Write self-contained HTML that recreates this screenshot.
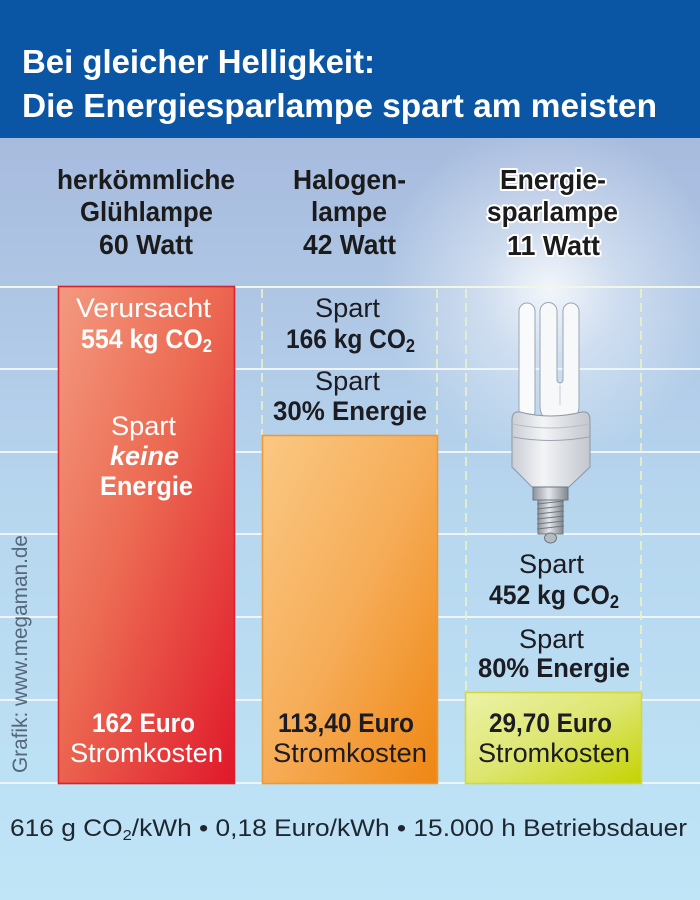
<!DOCTYPE html>
<html><head><meta charset="utf-8">
<style>
html,body{margin:0;padding:0;width:700px;height:900px;overflow:hidden;background:#b5d3ee}
svg{display:block}
text{font-family:"Liberation Sans",sans-serif}
</style></head><body>
<svg width="700" height="900" viewBox="0 0 700 900" xmlns="http://www.w3.org/2000/svg">
<defs>
<linearGradient id="bg" x1="0" y1="138" x2="0" y2="900" gradientUnits="userSpaceOnUse">
<stop offset="0" stop-color="#a7bbde"/><stop offset="0.22" stop-color="#afc7e5"/><stop offset="0.5" stop-color="#b7d7ef"/><stop offset="1" stop-color="#bfe5f7"/>
</linearGradient>
<radialGradient id="glow" cx="550" cy="290" r="170" gradientUnits="userSpaceOnUse">
<stop offset="0" stop-color="#fff" stop-opacity="0.85"/><stop offset="0.4" stop-color="#fff" stop-opacity="0.4"/><stop offset="1" stop-color="#fff" stop-opacity="0"/>
</radialGradient>
<linearGradient id="red" x1="0" y1="0" x2="1" y2="1">
<stop offset="0" stop-color="#f39a80"/><stop offset="0.45" stop-color="#ec6a52"/><stop offset="1" stop-color="#e0182a"/>
</linearGradient>
<linearGradient id="org" x1="0" y1="0" x2="1" y2="1">
<stop offset="0" stop-color="#fac884"/><stop offset="0.5" stop-color="#f6ad58"/><stop offset="1" stop-color="#ef8612"/>
</linearGradient>
<linearGradient id="grn" x1="0" y1="0" x2="1" y2="1">
<stop offset="0" stop-color="#ecf2a8"/><stop offset="0.5" stop-color="#dde670"/><stop offset="1" stop-color="#c4d200"/>
</linearGradient>
<linearGradient id="base" x1="0" y1="0" x2="1" y2="0">
<stop offset="0" stop-color="#c9ced5"/><stop offset="0.4" stop-color="#f3f4f6"/><stop offset="1" stop-color="#c2c7ce"/>
</linearGradient>
<linearGradient id="metal" x1="0" y1="0" x2="1" y2="0">
<stop offset="0" stop-color="#8d949c"/><stop offset="0.45" stop-color="#e4e7ea"/><stop offset="1" stop-color="#7f868e"/>
</linearGradient>
</defs>

<!-- background -->
<rect x="0" y="0" width="700" height="900" fill="url(#bg)"/>
<ellipse cx="550" cy="290" rx="170" ry="200" fill="url(#glow)"/>

<!-- header -->
<rect x="0" y="0" width="700" height="138" fill="#0a56a5"/>
<text x="22" y="73" font-size="33" font-weight="bold" fill="#fff" textLength="353" lengthAdjust="spacingAndGlyphs">Bei gleicher Helligkeit:</text>
<text x="22" y="117" font-size="33" font-weight="bold" fill="#fff" textLength="635" lengthAdjust="spacingAndGlyphs">Die Energiesparlampe spart am meisten</text>

<!-- grid lines -->
<g stroke="#eef5fa" stroke-width="2">
<line x1="0" y1="287" x2="700" y2="287" stroke="#f2f6e6"/>
<line x1="0" y1="369" x2="700" y2="369"/>
<line x1="0" y1="452" x2="700" y2="452"/>
<line x1="0" y1="534" x2="700" y2="534"/>
<line x1="0" y1="617" x2="700" y2="617"/>
<line x1="0" y1="700" x2="700" y2="700"/>
<line x1="0" y1="783" x2="700" y2="783"/>
</g>
<g stroke="#eef3bf" stroke-width="1.6" stroke-dasharray="9 5">
<line x1="262" y1="289" x2="262" y2="435"/>
<line x1="437" y1="289" x2="437" y2="435"/>
<line x1="466" y1="289" x2="466" y2="692"/>
<line x1="641" y1="289" x2="641" y2="692"/>
</g>

<!-- column headers -->
<g font-size="28" font-weight="bold" fill="#1b1b1b">
<text x="57" y="189" textLength="178" lengthAdjust="spacingAndGlyphs">herkömmliche</text>
<text x="80" y="221" textLength="133" lengthAdjust="spacingAndGlyphs">Glühlampe</text>
<text x="99" y="254" textLength="94" lengthAdjust="spacingAndGlyphs">60 Watt</text>
<text x="293" y="189" textLength="113" lengthAdjust="spacingAndGlyphs">Halogen-</text>
<text x="311" y="221" textLength="76" lengthAdjust="spacingAndGlyphs">lampe</text>
<text x="303" y="254" textLength="93" lengthAdjust="spacingAndGlyphs">42 Watt</text>
</g>
<g font-size="28" font-weight="bold" fill="#1b1b1b" stroke="#ffffff" stroke-width="4" stroke-linejoin="round" paint-order="stroke">
<text x="500" y="189" textLength="106" lengthAdjust="spacingAndGlyphs">Energie-</text>
<text x="487" y="221" textLength="131" lengthAdjust="spacingAndGlyphs">sparlampe</text>
<text x="507" y="255" textLength="93" lengthAdjust="spacingAndGlyphs">11 Watt</text>
</g>

<!-- bars -->
<rect x="58.5" y="286.5" width="176" height="497" fill="url(#red)" stroke="#d62333" stroke-width="1.6"/>
<rect x="262.5" y="435.5" width="175" height="348" fill="url(#org)" stroke="#eb9a3a" stroke-width="1.6"/>
<rect x="465.5" y="692.5" width="176" height="91" fill="url(#grn)" stroke="#cfd93e" stroke-width="1.6"/>

<!-- red bar texts -->
<g fill="#ffffff">
<text x="76" y="317" font-size="27" textLength="135" lengthAdjust="spacingAndGlyphs">Verursacht</text>
<text x="81" y="348" font-size="27" font-weight="bold" textLength="131" lengthAdjust="spacingAndGlyphs">554 kg CO<tspan font-size="18" dy="4">2</tspan></text>
<text x="111" y="435" font-size="27" textLength="65" lengthAdjust="spacingAndGlyphs">Spart</text>
<text x="110" y="465" font-size="27" font-weight="bold" font-style="italic" textLength="69" lengthAdjust="spacingAndGlyphs">keine</text>
<text x="100" y="495" font-size="27" font-weight="bold" textLength="93" lengthAdjust="spacingAndGlyphs">Energie</text>
<text x="92" y="732" font-size="27" font-weight="bold" textLength="103" lengthAdjust="spacingAndGlyphs">162 Euro</text>
<text x="70" y="762" font-size="27" textLength="153" lengthAdjust="spacingAndGlyphs">Stromkosten</text>
</g>

<!-- halogen column texts -->
<g fill="#1c1c22">
<text x="315" y="317" font-size="27" textLength="65" lengthAdjust="spacingAndGlyphs">Spart</text>
<text x="286" y="348" font-size="27" font-weight="bold" textLength="129" lengthAdjust="spacingAndGlyphs">166 kg CO<tspan font-size="18" dy="4">2</tspan></text>
<text x="315" y="390" font-size="27" textLength="65" lengthAdjust="spacingAndGlyphs">Spart</text>
<text x="273" y="420" font-size="27" font-weight="bold" textLength="154" lengthAdjust="spacingAndGlyphs">30% Energie</text>
<text x="278" y="732" font-size="27" font-weight="bold" textLength="136" lengthAdjust="spacingAndGlyphs">113,40 Euro</text>
<text x="273" y="762" font-size="27" textLength="154" lengthAdjust="spacingAndGlyphs">Stromkosten</text>
</g>

<!-- energy saving column texts -->
<g fill="#1c1c22">
<text x="519" y="573" font-size="27" textLength="65" lengthAdjust="spacingAndGlyphs">Spart</text>
<text x="489" y="604" font-size="27" font-weight="bold" textLength="130" lengthAdjust="spacingAndGlyphs">452 kg CO<tspan font-size="18" dy="4">2</tspan></text>
<text x="519" y="648" font-size="27" textLength="65" lengthAdjust="spacingAndGlyphs">Spart</text>
<text x="478" y="677" font-size="27" font-weight="bold" textLength="152" lengthAdjust="spacingAndGlyphs">80% Energie</text>
<text x="489" y="732" font-size="27" font-weight="bold" textLength="123" lengthAdjust="spacingAndGlyphs">29,70 Euro</text>
<text x="478" y="762" font-size="27" textLength="152" lengthAdjust="spacingAndGlyphs">Stromkosten</text>
</g>

<!-- bulb -->
<g stroke="#9aa6b2" stroke-width="1">
<path d="M540 395 L540 311 A8.5 8.5 0 0 1 557 311 L557 380 A3 3 0 0 0 563 380 L563 311 A8 8 0 0 1 579 311 L579 405 Q579 418 571 418 L548 418 Q540 418 540 405 Z" fill="#f6f8fa"/>
<rect x="519" y="303" width="16" height="116" rx="8" fill="#f8fafc"/>
<line x1="560" y1="385" x2="560" y2="405" stroke="#c3ccd4"/>
<path d="M512 420 Q512 411 520 412 Q550 420 582 412 Q590 411 590 420 L590 467 L569 487 L532 487 L512 467 Z" fill="url(#base)" stroke="#8d97a1"/>
<path d="M513 437 Q550 444 589 437" fill="none" stroke="#9aa4ae"/>
<path d="M513 424 Q550 432 589 424" fill="none" stroke="#b5bec7"/>
<rect x="533" y="487" width="35" height="13" fill="url(#metal)" stroke="#6f777f"/>
<path d="M538 500 L563 500 L563 534 L538 534 Z" fill="url(#metal)" stroke="#6f777f"/>
<g stroke="#6f777f" fill="none">
<path d="M537 504 L564 501"/><path d="M537 509 L564 506"/><path d="M537 514 L564 511"/><path d="M537 519 L564 516"/><path d="M537 524 L564 521"/><path d="M537 529 L564 526"/>
</g>
<ellipse cx="550.5" cy="538" rx="6" ry="5" fill="#b5bbc2" stroke="#6f777f"/>
</g>

<!-- vertical credit -->
<text transform="rotate(-90)" x="-773" y="27" font-size="21" fill="#55677a" textLength="238" lengthAdjust="spacingAndGlyphs">Grafik: www.megaman.de</text>

<!-- bottom line -->
<text x="10" y="836" font-size="24" fill="#1e2630" textLength="677" lengthAdjust="spacingAndGlyphs">616 g CO<tspan font-size="15" dy="4">2</tspan><tspan dy="-4">/kWh • 0,18 Euro/kWh • 15.000 h Betriebsdauer</tspan></text>
</svg>
</body></html>
